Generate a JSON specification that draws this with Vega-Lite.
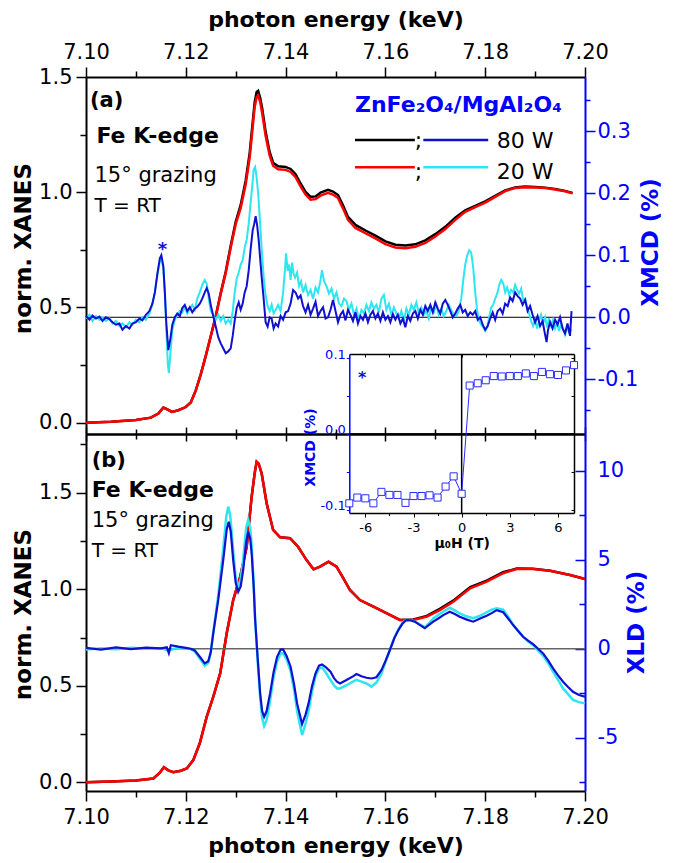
{
"$schema":"https://vega.github.io/schema/vega-lite/v6.json",
"width":499,"height":714,
"autosize":{"type":"none"},
"padding":{"left":86,"top":77,"right":96,"bottom":72},
"background":"white",
"data":{"values":[{"k":1}]},
"config":{
 "font":"DejaVu Sans",
 "view":{"stroke":null},
 "axis":{"grid":false,"domainColor":"#000","domainWidth":2,"tickColor":"#000","tickWidth":1.5,"labelColor":"#000","labelFont":"DejaVu Sans","labelFontSize":21,"titleFont":"DejaVu Sans","titleFontSize":23,"titleFontWeight":"bold","titleColor":"#000","labelFlush":false,"labelOverlap":false},
 "text":{"font":"DejaVu Sans"}
},
"datasets":{
 "xa80":[{"E":7.1,"v":0},{"E":7.105,"v":0.004},{"E":7.11,"v":0.012},{"E":7.113,"v":0.022},{"E":7.1145,"v":0.04},{"E":7.1155,"v":0.066},{"E":7.1163,"v":0.058},{"E":7.1172,"v":0.047},{"E":7.1185,"v":0.054},{"E":7.12,"v":0.068},{"E":7.121,"v":0.088},{"E":7.122,"v":0.14},{"E":7.123,"v":0.21},{"E":7.124,"v":0.29},{"E":7.125,"v":0.375},{"E":7.126,"v":0.462},{"E":7.127,"v":0.563},{"E":7.128,"v":0.655},{"E":7.129,"v":0.768},{"E":7.13,"v":0.872},{"E":7.131,"v":0.945},{"E":7.132,"v":1.05},{"E":7.1328,"v":1.17},{"E":7.1333,"v":1.28},{"E":7.1338,"v":1.39},{"E":7.1342,"v":1.435},{"E":7.1345,"v":1.44},{"E":7.1349,"v":1.41},{"E":7.1353,"v":1.365},{"E":7.136,"v":1.262},{"E":7.1368,"v":1.175},{"E":7.1375,"v":1.128},{"E":7.1385,"v":1.113},{"E":7.14,"v":1.11},{"E":7.141,"v":1.101},{"E":7.142,"v":1.078},{"E":7.143,"v":1.038},{"E":7.144,"v":1.002},{"E":7.145,"v":0.98},{"E":7.146,"v":0.982},{"E":7.147,"v":0.998},{"E":7.1485,"v":1.01},{"E":7.1495,"v":1.003},{"E":7.1505,"v":0.988},{"E":7.1515,"v":0.943},{"E":7.1525,"v":0.893},{"E":7.154,"v":0.858},{"E":7.156,"v":0.834},{"E":7.158,"v":0.812},{"E":7.16,"v":0.787},{"E":7.162,"v":0.772},{"E":7.164,"v":0.769},{"E":7.166,"v":0.774},{"E":7.168,"v":0.791},{"E":7.17,"v":0.818},{"E":7.172,"v":0.85},{"E":7.174,"v":0.889},{"E":7.176,"v":0.922},{"E":7.178,"v":0.941},{"E":7.18,"v":0.96},{"E":7.182,"v":0.984},{"E":7.184,"v":1.008},{"E":7.186,"v":1.021},{"E":7.188,"v":1.025},{"E":7.19,"v":1.023},{"E":7.192,"v":1.02},{"E":7.194,"v":1.014},{"E":7.196,"v":1.006},{"E":7.1975,"v":0.997}],
 "xa20":[{"E":7.1,"v":0},{"E":7.105,"v":0.004},{"E":7.11,"v":0.012},{"E":7.113,"v":0.022},{"E":7.1145,"v":0.04},{"E":7.1155,"v":0.066},{"E":7.1163,"v":0.058},{"E":7.1172,"v":0.047},{"E":7.1185,"v":0.054},{"E":7.12,"v":0.068},{"E":7.121,"v":0.088},{"E":7.122,"v":0.14},{"E":7.123,"v":0.21},{"E":7.124,"v":0.29},{"E":7.125,"v":0.375},{"E":7.126,"v":0.46},{"E":7.127,"v":0.56},{"E":7.128,"v":0.65},{"E":7.129,"v":0.76},{"E":7.13,"v":0.862},{"E":7.131,"v":0.932},{"E":7.132,"v":1.035},{"E":7.1328,"v":1.15},{"E":7.1333,"v":1.26},{"E":7.1338,"v":1.37},{"E":7.1342,"v":1.413},{"E":7.1345,"v":1.42},{"E":7.1349,"v":1.392},{"E":7.1353,"v":1.345},{"E":7.136,"v":1.245},{"E":7.1368,"v":1.16},{"E":7.1375,"v":1.115},{"E":7.1385,"v":1.1},{"E":7.14,"v":1.097},{"E":7.141,"v":1.088},{"E":7.142,"v":1.065},{"E":7.143,"v":1.025},{"E":7.144,"v":0.99},{"E":7.145,"v":0.968},{"E":7.146,"v":0.97},{"E":7.147,"v":0.985},{"E":7.1485,"v":0.997},{"E":7.1495,"v":0.99},{"E":7.1505,"v":0.975},{"E":7.1515,"v":0.93},{"E":7.1525,"v":0.88},{"E":7.154,"v":0.845},{"E":7.156,"v":0.822},{"E":7.158,"v":0.8},{"E":7.16,"v":0.775},{"E":7.162,"v":0.76},{"E":7.164,"v":0.757},{"E":7.166,"v":0.763},{"E":7.168,"v":0.78},{"E":7.17,"v":0.808},{"E":7.172,"v":0.84},{"E":7.174,"v":0.88},{"E":7.176,"v":0.915},{"E":7.178,"v":0.935},{"E":7.18,"v":0.955},{"E":7.182,"v":0.98},{"E":7.184,"v":1.005},{"E":7.186,"v":1.018},{"E":7.188,"v":1.022},{"E":7.19,"v":1.021},{"E":7.192,"v":1.018},{"E":7.194,"v":1.012},{"E":7.196,"v":1.004},{"E":7.1975,"v":0.995}],
 "xb80":[{"E":7.1,"v":0},{"E":7.105,"v":0.004},{"E":7.11,"v":0.01},{"E":7.1135,"v":0.02},{"E":7.1148,"v":0.05},{"E":7.1156,"v":0.078},{"E":7.1165,"v":0.062},{"E":7.1175,"v":0.052},{"E":7.119,"v":0.06},{"E":7.1202,"v":0.072},{"E":7.1215,"v":0.115},{"E":7.1228,"v":0.202},{"E":7.1242,"v":0.34},{"E":7.1255,"v":0.443},{"E":7.1269,"v":0.565},{"E":7.1282,"v":0.772},{"E":7.1295,"v":0.944},{"E":7.1309,"v":1.065},{"E":7.1322,"v":1.22},{"E":7.1332,"v":1.479},{"E":7.1338,"v":1.6},{"E":7.1342,"v":1.66},{"E":7.1346,"v":1.65},{"E":7.1352,"v":1.6},{"E":7.1362,"v":1.445},{"E":7.1375,"v":1.307},{"E":7.1389,"v":1.269},{"E":7.1409,"v":1.264},{"E":7.1425,"v":1.22},{"E":7.1442,"v":1.151},{"E":7.1456,"v":1.103},{"E":7.1469,"v":1.117},{"E":7.1486,"v":1.143},{"E":7.1502,"v":1.117},{"E":7.1515,"v":1.06},{"E":7.1529,"v":0.996},{"E":7.1549,"v":0.944},{"E":7.1576,"v":0.91},{"E":7.1603,"v":0.875},{"E":7.1629,"v":0.841},{"E":7.1656,"v":0.843},{"E":7.1683,"v":0.862},{"E":7.1709,"v":0.898},{"E":7.1736,"v":0.941},{"E":7.177,"v":1.011},{"E":7.1803,"v":1.045},{"E":7.1836,"v":1.088},{"E":7.1863,"v":1.107},{"E":7.1896,"v":1.106},{"E":7.193,"v":1.096},{"E":7.197,"v":1.074},{"E":7.2,"v":1.053}],
 "xb20":[{"E":7.1,"v":0},{"E":7.105,"v":0.004},{"E":7.11,"v":0.01},{"E":7.1135,"v":0.02},{"E":7.1148,"v":0.05},{"E":7.1156,"v":0.078},{"E":7.1165,"v":0.062},{"E":7.1175,"v":0.052},{"E":7.119,"v":0.06},{"E":7.1202,"v":0.072},{"E":7.1215,"v":0.115},{"E":7.1228,"v":0.202},{"E":7.1242,"v":0.34},{"E":7.1255,"v":0.443},{"E":7.1269,"v":0.565},{"E":7.1282,"v":0.772},{"E":7.1295,"v":0.944},{"E":7.1309,"v":1.065},{"E":7.1322,"v":1.22},{"E":7.1332,"v":1.479},{"E":7.1338,"v":1.6},{"E":7.1342,"v":1.66},{"E":7.1346,"v":1.65},{"E":7.1352,"v":1.6},{"E":7.1362,"v":1.445},{"E":7.1375,"v":1.307},{"E":7.1389,"v":1.269},{"E":7.1409,"v":1.264},{"E":7.1425,"v":1.22},{"E":7.1442,"v":1.151},{"E":7.1456,"v":1.103},{"E":7.1469,"v":1.117},{"E":7.1486,"v":1.143},{"E":7.1502,"v":1.117},{"E":7.1515,"v":1.06},{"E":7.1529,"v":0.996},{"E":7.1549,"v":0.944},{"E":7.1576,"v":0.91},{"E":7.1603,"v":0.875},{"E":7.1629,"v":0.841},{"E":7.1656,"v":0.841},{"E":7.1683,"v":0.858},{"E":7.1709,"v":0.892},{"E":7.1736,"v":0.935},{"E":7.177,"v":1.005},{"E":7.1803,"v":1.039},{"E":7.1836,"v":1.083},{"E":7.1863,"v":1.105},{"E":7.1896,"v":1.105},{"E":7.193,"v":1.096},{"E":7.197,"v":1.074},{"E":7.2,"v":1.053}],
 "m80":[{"E":7.1,"v":0.002},{"E":7.1007,"v":-0.004},{"E":7.1013,"v":0.003},{"E":7.102,"v":-0.002},{"E":7.1027,"v":0.001},{"E":7.1033,"v":-0.006},{"E":7.104,"v":0},{"E":7.1047,"v":-0.003},{"E":7.1053,"v":-0.008},{"E":7.106,"v":-0.012},{"E":7.1067,"v":-0.01},{"E":7.1073,"v":-0.02},{"E":7.108,"v":-0.014},{"E":7.1087,"v":-0.018},{"E":7.1093,"v":-0.01},{"E":7.11,"v":-0.008},{"E":7.1107,"v":-0.002},{"E":7.1113,"v":-0.005},{"E":7.112,"v":0.004},{"E":7.1127,"v":0.01},{"E":7.1133,"v":0.022},{"E":7.1138,"v":0.04},{"E":7.1143,"v":0.07},{"E":7.1148,"v":0.095},{"E":7.1151,"v":0.1},{"E":7.1155,"v":0.082},{"E":7.1158,"v":0.04},{"E":7.1161,"v":-0.01},{"E":7.1165,"v":-0.053},{"E":7.1169,"v":-0.035},{"E":7.1173,"v":-0.012},{"E":7.1178,"v":0},{"E":7.1183,"v":0.006},{"E":7.1188,"v":0.002},{"E":7.1193,"v":0.015},{"E":7.1198,"v":0.02},{"E":7.1203,"v":0.01},{"E":7.1208,"v":0.016},{"E":7.1213,"v":0.008},{"E":7.1218,"v":0.014},{"E":7.1223,"v":0.017},{"E":7.1228,"v":0.022},{"E":7.1233,"v":0.03},{"E":7.1238,"v":0.04},{"E":7.1242,"v":0.047},{"E":7.1246,"v":0.038},{"E":7.125,"v":0.02},{"E":7.1255,"v":0.002},{"E":7.126,"v":-0.015},{"E":7.1265,"v":-0.032},{"E":7.127,"v":-0.042},{"E":7.1275,"v":-0.05},{"E":7.128,"v":-0.058},{"E":7.1285,"v":-0.055},{"E":7.129,"v":-0.05},{"E":7.1294,"v":-0.03},{"E":7.1298,"v":-0.005},{"E":7.1302,"v":0.015},{"E":7.1306,"v":0.024},{"E":7.131,"v":0.012},{"E":7.1314,"v":0.022},{"E":7.1318,"v":0.04},{"E":7.1322,"v":0.05},{"E":7.1326,"v":0.075},{"E":7.133,"v":0.11},{"E":7.1334,"v":0.14},{"E":7.1337,"v":0.15},{"E":7.134,"v":0.163},{"E":7.1343,"v":0.148},{"E":7.1346,"v":0.125},{"E":7.1349,"v":0.095},{"E":7.1352,"v":0.065},{"E":7.1356,"v":0.03},{"E":7.136,"v":-0.008},{"E":7.1364,"v":-0.015},{"E":7.1368,"v":0},{"E":7.1372,"v":-0.002},{"E":7.1376,"v":-0.018},{"E":7.138,"v":-0.01},{"E":7.1385,"v":-0.015},{"E":7.139,"v":0.002},{"E":7.1395,"v":-0.004},{"E":7.14,"v":0.008},{"E":7.1405,"v":0.01},{"E":7.141,"v":0.022},{"E":7.1415,"v":0.044},{"E":7.142,"v":0.04},{"E":7.1425,"v":0.03},{"E":7.143,"v":0.035},{"E":7.1435,"v":0.018},{"E":7.144,"v":0.008},{"E":7.1445,"v":0.02},{"E":7.145,"v":0.004},{"E":7.1455,"v":0.014},{"E":7.146,"v":0.025},{"E":7.1465,"v":0.002},{"E":7.147,"v":0.01},{"E":7.1475,"v":0.016},{"E":7.148,"v":-0.002},{"E":7.1485,"v":0},{"E":7.149,"v":0.012},{"E":7.1495,"v":0.028},{"E":7.15,"v":0.01},{"E":7.1505,"v":-0.008},{"E":7.151,"v":0.004},{"E":7.1515,"v":0.01},{"E":7.152,"v":-0.005},{"E":7.1525,"v":0.012},{"E":7.153,"v":0.004},{"E":7.1535,"v":-0.006},{"E":7.154,"v":0.008},{"E":7.1545,"v":-0.01},{"E":7.155,"v":0.002},{"E":7.1555,"v":-0.004},{"E":7.156,"v":0.006},{"E":7.1565,"v":-0.008},{"E":7.157,"v":0.004},{"E":7.1575,"v":0.01},{"E":7.158,"v":-0.002},{"E":7.1585,"v":0.006},{"E":7.159,"v":-0.006},{"E":7.1595,"v":0.008},{"E":7.16,"v":-0.004},{"E":7.1605,"v":0.002},{"E":7.161,"v":-0.008},{"E":7.1615,"v":0.005},{"E":7.162,"v":-0.004},{"E":7.1625,"v":0.004},{"E":7.163,"v":-0.01},{"E":7.1635,"v":-0.002},{"E":7.164,"v":-0.016},{"E":7.1645,"v":0.002},{"E":7.165,"v":-0.006},{"E":7.1655,"v":0.006},{"E":7.166,"v":0.01},{"E":7.1665,"v":-0.002},{"E":7.167,"v":0.012},{"E":7.1675,"v":0.004},{"E":7.168,"v":0.018},{"E":7.1685,"v":0.01},{"E":7.169,"v":0.02},{"E":7.1695,"v":0.008},{"E":7.17,"v":0.024},{"E":7.1705,"v":0.014},{"E":7.171,"v":0.006},{"E":7.1715,"v":0.022},{"E":7.172,"v":0.028},{"E":7.1725,"v":0.02},{"E":7.173,"v":0.01},{"E":7.1735,"v":0},{"E":7.174,"v":0.006},{"E":7.1745,"v":0.014},{"E":7.175,"v":0.02},{"E":7.1755,"v":0.008},{"E":7.176,"v":0.012},{"E":7.1765,"v":0.002},{"E":7.177,"v":0.008},{"E":7.1775,"v":0.004},{"E":7.178,"v":0.01},{"E":7.1785,"v":-0.004},{"E":7.179,"v":0},{"E":7.1795,"v":-0.012},{"E":7.18,"v":-0.02},{"E":7.1805,"v":-0.014},{"E":7.181,"v":-0.002},{"E":7.1815,"v":0.008},{"E":7.182,"v":-0.004},{"E":7.1825,"v":0.01},{"E":7.183,"v":0.014},{"E":7.1835,"v":0.006},{"E":7.184,"v":0.022},{"E":7.1845,"v":0.018},{"E":7.185,"v":0.032},{"E":7.1855,"v":0.026},{"E":7.186,"v":0.04},{"E":7.1865,"v":0.034},{"E":7.187,"v":0.03},{"E":7.1875,"v":0.02},{"E":7.188,"v":0.028},{"E":7.1885,"v":0.01},{"E":7.189,"v":0.018},{"E":7.1895,"v":0.004},{"E":7.19,"v":-0.008},{"E":7.1905,"v":0.002},{"E":7.191,"v":-0.014},{"E":7.1915,"v":-0.006},{"E":7.192,"v":-0.028},{"E":7.1923,"v":-0.04},{"E":7.1926,"v":-0.02},{"E":7.193,"v":-0.008},{"E":7.1935,"v":-0.018},{"E":7.194,"v":-0.004},{"E":7.1945,"v":-0.012},{"E":7.195,"v":0},{"E":7.1955,"v":-0.018},{"E":7.196,"v":-0.026},{"E":7.1965,"v":-0.01},{"E":7.197,"v":-0.03},{"E":7.1973,"v":0.01}],
 "m20":[{"E":7.1,"v":-0.002},{"E":7.1007,"v":0.004},{"E":7.1013,"v":-0.006},{"E":7.102,"v":0.002},{"E":7.1027,"v":-0.004},{"E":7.1033,"v":0},{"E":7.104,"v":-0.006},{"E":7.1047,"v":-0.002},{"E":7.1053,"v":-0.01},{"E":7.106,"v":-0.006},{"E":7.1067,"v":-0.014},{"E":7.1073,"v":-0.01},{"E":7.108,"v":-0.016},{"E":7.1087,"v":-0.008},{"E":7.1093,"v":-0.012},{"E":7.11,"v":-0.004},{"E":7.1107,"v":-0.008},{"E":7.1113,"v":0},{"E":7.112,"v":-0.004},{"E":7.1127,"v":0.006},{"E":7.1133,"v":0.02},{"E":7.1138,"v":0.04},{"E":7.1143,"v":0.068},{"E":7.1148,"v":0.09},{"E":7.1151,"v":0.093},{"E":7.1155,"v":0.08},{"E":7.1158,"v":0.04},{"E":7.1161,"v":-0.02},{"E":7.1164,"v":-0.075},{"E":7.1166,"v":-0.09},{"E":7.1169,"v":-0.06},{"E":7.1173,"v":-0.02},{"E":7.1178,"v":-0.004},{"E":7.1183,"v":0.004},{"E":7.1188,"v":0.01},{"E":7.1193,"v":0.008},{"E":7.1198,"v":0.016},{"E":7.1203,"v":0.006},{"E":7.1208,"v":0.014},{"E":7.1213,"v":0.02},{"E":7.1218,"v":0.012},{"E":7.1223,"v":0.03},{"E":7.1228,"v":0.04},{"E":7.1233,"v":0.052},{"E":7.1238,"v":0.06},{"E":7.1242,"v":0.054},{"E":7.1246,"v":0.03},{"E":7.125,"v":0.01},{"E":7.1255,"v":0.004},{"E":7.126,"v":-0.004},{"E":7.1265,"v":0.004},{"E":7.127,"v":-0.006},{"E":7.1275,"v":0.002},{"E":7.128,"v":-0.01},{"E":7.1285,"v":-0.004},{"E":7.129,"v":-0.01},{"E":7.1294,"v":0.01},{"E":7.1298,"v":0.04},{"E":7.1302,"v":0.062},{"E":7.1306,"v":0.072},{"E":7.131,"v":0.085},{"E":7.1314,"v":0.092},{"E":7.1318,"v":0.112},{"E":7.1322,"v":0.125},{"E":7.1326,"v":0.15},{"E":7.133,"v":0.185},{"E":7.1333,"v":0.21},{"E":7.1336,"v":0.238},{"E":7.1339,"v":0.242},{"E":7.1342,"v":0.225},{"E":7.1345,"v":0.2},{"E":7.1349,"v":0.15},{"E":7.1352,"v":0.112},{"E":7.1356,"v":0.065},{"E":7.136,"v":0.035},{"E":7.1364,"v":0.018},{"E":7.1368,"v":0.01},{"E":7.1372,"v":0.02},{"E":7.1376,"v":0.006},{"E":7.138,"v":0.012},{"E":7.1385,"v":0.02},{"E":7.139,"v":0.01},{"E":7.1395,"v":0.04},{"E":7.1399,"v":0.08},{"E":7.1401,"v":0.103},{"E":7.1404,"v":0.075},{"E":7.1407,"v":0.085},{"E":7.141,"v":0.06},{"E":7.1413,"v":0.088},{"E":7.1416,"v":0.07},{"E":7.1419,"v":0.064},{"E":7.1423,"v":0.072},{"E":7.1427,"v":0.05},{"E":7.1431,"v":0.058},{"E":7.1435,"v":0.04},{"E":7.144,"v":0.052},{"E":7.1445,"v":0.036},{"E":7.145,"v":0.044},{"E":7.1455,"v":0.03},{"E":7.146,"v":0.048},{"E":7.1465,"v":0.04},{"E":7.147,"v":0.06},{"E":7.1473,"v":0.076},{"E":7.1477,"v":0.058},{"E":7.1482,"v":0.05},{"E":7.1487,"v":0.038},{"E":7.1492,"v":0.046},{"E":7.1497,"v":0.03},{"E":7.1502,"v":0.04},{"E":7.1507,"v":0.022},{"E":7.1512,"v":0.018},{"E":7.1517,"v":0.03},{"E":7.1522,"v":0.026},{"E":7.1527,"v":0.012},{"E":7.1532,"v":0.022},{"E":7.1537,"v":0.004},{"E":7.1542,"v":0.014},{"E":7.1547,"v":-0.004},{"E":7.1552,"v":0.012},{"E":7.1557,"v":0.006},{"E":7.1562,"v":0.02},{"E":7.1567,"v":0.01},{"E":7.1572,"v":0.024},{"E":7.1577,"v":0.014},{"E":7.1582,"v":0.02},{"E":7.1587,"v":0.008},{"E":7.1592,"v":0.03},{"E":7.1597,"v":0.036},{"E":7.1602,"v":0.012},{"E":7.1607,"v":0.022},{"E":7.1612,"v":0.004},{"E":7.1617,"v":0.016},{"E":7.1622,"v":0.006},{"E":7.1627,"v":-0.002},{"E":7.1632,"v":0.01},{"E":7.1637,"v":-0.006},{"E":7.1642,"v":0.014},{"E":7.1647,"v":0.004},{"E":7.1652,"v":0.02},{"E":7.1657,"v":0.012},{"E":7.1662,"v":0.024},{"E":7.1667,"v":0.006},{"E":7.1672,"v":0.016},{"E":7.1677,"v":0.004},{"E":7.1682,"v":0.01},{"E":7.1687,"v":-0.002},{"E":7.1692,"v":0.016},{"E":7.1697,"v":0.008},{"E":7.1702,"v":0.02},{"E":7.1707,"v":0.004},{"E":7.1712,"v":0.014},{"E":7.1717,"v":0.002},{"E":7.1722,"v":0.01},{"E":7.1727,"v":0.02},{"E":7.1732,"v":0.012},{"E":7.1737,"v":0.004},{"E":7.1742,"v":0.002},{"E":7.1747,"v":0.01},{"E":7.1752,"v":0.03},{"E":7.1756,"v":0.06},{"E":7.176,"v":0.085},{"E":7.1764,"v":0.1},{"E":7.1768,"v":0.108},{"E":7.1772,"v":0.104},{"E":7.1776,"v":0.08},{"E":7.178,"v":0.04},{"E":7.1784,"v":0.01},{"E":7.1788,"v":-0.006},{"E":7.1792,"v":-0.012},{"E":7.1796,"v":-0.016},{"E":7.18,"v":-0.022},{"E":7.1804,"v":-0.016},{"E":7.1808,"v":0},{"E":7.1812,"v":0.016},{"E":7.1816,"v":0.02},{"E":7.182,"v":0.03},{"E":7.1824,"v":0.038},{"E":7.1828,"v":0.052},{"E":7.1832,"v":0.06},{"E":7.1836,"v":0.055},{"E":7.184,"v":0.04},{"E":7.1844,"v":0.048},{"E":7.1848,"v":0.036},{"E":7.1852,"v":0.044},{"E":7.1856,"v":0.04},{"E":7.186,"v":0.052},{"E":7.1864,"v":0.044},{"E":7.1868,"v":0.038},{"E":7.1872,"v":0.046},{"E":7.1876,"v":0.028},{"E":7.188,"v":0.03},{"E":7.1884,"v":0.016},{"E":7.1888,"v":0.006},{"E":7.1892,"v":-0.006},{"E":7.1896,"v":-0.014},{"E":7.19,"v":-0.004},{"E":7.1904,"v":-0.018},{"E":7.1908,"v":-0.006},{"E":7.1912,"v":0.004},{"E":7.1916,"v":-0.01},{"E":7.192,"v":0},{"E":7.1924,"v":-0.016},{"E":7.1928,"v":-0.002},{"E":7.1932,"v":-0.014},{"E":7.1936,"v":-0.004},{"E":7.194,"v":-0.018},{"E":7.1944,"v":-0.008},{"E":7.1948,"v":-0.022},{"E":7.1952,"v":-0.01},{"E":7.1956,"v":-0.018},{"E":7.196,"v":-0.028},{"E":7.1964,"v":-0.016},{"E":7.1968,"v":-0.024},{"E":7.1973,"v":-0.02}],
 "l80":[{"E":7.1,"v":0.05},{"E":7.103,"v":-0.05},{"E":7.106,"v":0.08},{"E":7.109,"v":-0.02},{"E":7.112,"v":0.06},{"E":7.115,"v":0.02},{"E":7.1162,"v":0.08},{"E":7.1166,"v":-0.25},{"E":7.117,"v":0.2},{"E":7.1185,"v":0.12},{"E":7.12,"v":0.05},{"E":7.121,"v":0},{"E":7.1218,"v":-0.1},{"E":7.1228,"v":-0.45},{"E":7.1238,"v":-0.82},{"E":7.1245,"v":-0.7},{"E":7.125,"v":-0.2},{"E":7.1255,"v":0.86},{"E":7.1265,"v":2.74},{"E":7.1275,"v":4.98},{"E":7.1282,"v":6.7},{"E":7.1286,"v":7.13},{"E":7.129,"v":6.6},{"E":7.1295,"v":4.98},{"E":7.13,"v":3.7},{"E":7.1305,"v":3.2},{"E":7.131,"v":3.5},{"E":7.1315,"v":4.42},{"E":7.1321,"v":6},{"E":7.1325,"v":6.57},{"E":7.1329,"v":6.2},{"E":7.1332,"v":5.36},{"E":7.1336,"v":3.5},{"E":7.1339,"v":1.61},{"E":7.1344,"v":-0.5},{"E":7.1349,"v":-2.5},{"E":7.1353,"v":-3.5},{"E":7.1357,"v":-3.82},{"E":7.1362,"v":-3.5},{"E":7.1369,"v":-2.5},{"E":7.1376,"v":-1.3},{"E":7.1383,"v":-0.45},{"E":7.139,"v":-0.05},{"E":7.1395,"v":-0.04},{"E":7.1402,"v":-0.4},{"E":7.141,"v":-1.01},{"E":7.1417,"v":-2},{"E":7.1423,"v":-3.07},{"E":7.1433,"v":-4.23},{"E":7.144,"v":-3.7},{"E":7.1446,"v":-3.07},{"E":7.1453,"v":-2.1},{"E":7.146,"v":-1.38},{"E":7.1467,"v":-0.95},{"E":7.1473,"v":-0.88},{"E":7.1481,"v":-1.05},{"E":7.149,"v":-1.29},{"E":7.1497,"v":-1.65},{"E":7.1503,"v":-1.85},{"E":7.1509,"v":-1.95},{"E":7.1522,"v":-1.76},{"E":7.1535,"v":-1.55},{"E":7.1542,"v":-1.42},{"E":7.1552,"v":-1.55},{"E":7.1562,"v":-1.63},{"E":7.1572,"v":-1.67},{"E":7.1582,"v":-1.6},{"E":7.1592,"v":-1.2},{"E":7.16,"v":-0.7},{"E":7.1609,"v":-0.07},{"E":7.1618,"v":0.6},{"E":7.1626,"v":1.05},{"E":7.1634,"v":1.4},{"E":7.1642,"v":1.61},{"E":7.165,"v":1.6},{"E":7.1659,"v":1.52},{"E":7.1668,"v":1.35},{"E":7.1679,"v":1.15},{"E":7.1688,"v":1.35},{"E":7.1696,"v":1.52},{"E":7.1706,"v":1.7},{"E":7.1716,"v":1.89},{"E":7.1729,"v":2.08},{"E":7.1739,"v":1.95},{"E":7.1749,"v":1.8},{"E":7.1762,"v":1.65},{"E":7.1776,"v":1.52},{"E":7.179,"v":1.7},{"E":7.1803,"v":1.85},{"E":7.1813,"v":2},{"E":7.1823,"v":2.17},{"E":7.1836,"v":2.05},{"E":7.1846,"v":1.7},{"E":7.1856,"v":1.33},{"E":7.1866,"v":1},{"E":7.1876,"v":0.67},{"E":7.1886,"v":0.45},{"E":7.1896,"v":0.26},{"E":7.1906,"v":0},{"E":7.1916,"v":-0.26},{"E":7.1926,"v":-0.65},{"E":7.1936,"v":-1.1},{"E":7.1946,"v":-1.5},{"E":7.1956,"v":-1.85},{"E":7.1966,"v":-2.15},{"E":7.1976,"v":-2.42},{"E":7.1988,"v":-2.6},{"E":7.2,"v":-2.7}],
 "l20":[{"E":7.1,"v":-0.05},{"E":7.103,"v":0.02},{"E":7.106,"v":-0.03},{"E":7.109,"v":0.05},{"E":7.112,"v":0},{"E":7.115,"v":0.03},{"E":7.1166,"v":-0.1},{"E":7.1185,"v":0.06},{"E":7.12,"v":0.02},{"E":7.121,"v":-0.02},{"E":7.1218,"v":-0.15},{"E":7.1228,"v":-0.55},{"E":7.1238,"v":-0.95},{"E":7.1245,"v":-0.8},{"E":7.125,"v":-0.2},{"E":7.1255,"v":0.9},{"E":7.1265,"v":3},{"E":7.1275,"v":5.6},{"E":7.1281,"v":7.4},{"E":7.1285,"v":7.98},{"E":7.1289,"v":7.5},{"E":7.1295,"v":5.5},{"E":7.13,"v":4},{"E":7.1305,"v":3.48},{"E":7.131,"v":3.9},{"E":7.1315,"v":5},{"E":7.1321,"v":6.8},{"E":7.1325,"v":7.23},{"E":7.1329,"v":6.8},{"E":7.1332,"v":5.8},{"E":7.1336,"v":3.7},{"E":7.1339,"v":1.61},{"E":7.1344,"v":-0.7},{"E":7.1349,"v":-2.7},{"E":7.1353,"v":-3.9},{"E":7.1357,"v":-4.34},{"E":7.1362,"v":-4},{"E":7.1369,"v":-2.9},{"E":7.1376,"v":-1.6},{"E":7.1383,"v":-0.7},{"E":7.139,"v":-0.28},{"E":7.1395,"v":-0.26},{"E":7.1402,"v":-0.6},{"E":7.141,"v":-1.25},{"E":7.1417,"v":-2.3},{"E":7.1423,"v":-3.5},{"E":7.1433,"v":-4.85},{"E":7.144,"v":-4.2},{"E":7.1446,"v":-3.5},{"E":7.1453,"v":-2.4},{"E":7.146,"v":-1.55},{"E":7.1467,"v":-1.12},{"E":7.1473,"v":-1.05},{"E":7.1481,"v":-1.35},{"E":7.149,"v":-1.76},{"E":7.1497,"v":-2.05},{"E":7.1503,"v":-2.23},{"E":7.1509,"v":-2.23},{"E":7.1522,"v":-2.05},{"E":7.1535,"v":-1.85},{"E":7.1542,"v":-1.75},{"E":7.1552,"v":-1.85},{"E":7.1562,"v":-1.95},{"E":7.1572,"v":-2.13},{"E":7.1582,"v":-1.9},{"E":7.1592,"v":-1.4},{"E":7.16,"v":-0.75},{"E":7.1609,"v":-0.07},{"E":7.1618,"v":0.62},{"E":7.1626,"v":1.08},{"E":7.1634,"v":1.45},{"E":7.1642,"v":1.62},{"E":7.165,"v":1.6},{"E":7.1659,"v":1.52},{"E":7.1668,"v":1.38},{"E":7.1679,"v":1.2},{"E":7.1688,"v":1.45},{"E":7.1696,"v":1.7},{"E":7.1706,"v":1.9},{"E":7.1716,"v":2.08},{"E":7.1729,"v":2.3},{"E":7.1739,"v":2.15},{"E":7.1749,"v":1.98},{"E":7.1762,"v":1.82},{"E":7.1776,"v":1.71},{"E":7.179,"v":1.85},{"E":7.1803,"v":2.05},{"E":7.1813,"v":2.2},{"E":7.1823,"v":2.27},{"E":7.1836,"v":2.2},{"E":7.1846,"v":1.8},{"E":7.1856,"v":1.35},{"E":7.1866,"v":1},{"E":7.1876,"v":0.67},{"E":7.1886,"v":0.4},{"E":7.1896,"v":0.2},{"E":7.1906,"v":-0.1},{"E":7.1916,"v":-0.4},{"E":7.1926,"v":-0.8},{"E":7.1936,"v":-1.29},{"E":7.1946,"v":-1.75},{"E":7.1956,"v":-2.23},{"E":7.1966,"v":-2.55},{"E":7.1976,"v":-2.88},{"E":7.1988,"v":-3},{"E":7.2,"v":-3.07}],
 "ins":[{"H":-7,"m":-0.0916},{"H":-6.5,"m":-0.084},{"H":-6,"m":-0.085},{"H":-5.5,"m":-0.0916},{"H":-5,"m":-0.0765},{"H":-4.5,"m":-0.0805},{"H":-4,"m":-0.0805},{"H":-3.5,"m":-0.091},{"H":-3,"m":-0.082},{"H":-2.5,"m":-0.082},{"H":-2,"m":-0.081},{"H":-1.5,"m":-0.084},{"H":-1,"m":-0.0695},{"H":-0.5,"m":-0.056},{"H":0,"m":-0.079},{"H":0.5,"m":0.064},{"H":1,"m":0.067},{"H":1.5,"m":0.071},{"H":2,"m":0.0765},{"H":2.5,"m":0.076},{"H":3,"m":0.0765},{"H":3.5,"m":0.0765},{"H":4,"m":0.08},{"H":4.5,"m":0.0765},{"H":5,"m":0.082},{"H":5.5,"m":0.079},{"H":6,"m":0.078},{"H":6.5,"m":0.084},{"H":7,"m":0.091}]
},
"resolve":{"scale":{"x":"independent","y":"independent"},"axis":{"x":"independent","y":"independent"}},
"layer":[
 {"layer":[
  {"data":{"name":"xa80"},"mark":{"type":"line","color":"#000000","strokeWidth":2.5},
   "encoding":{
    "x":{"field":"E","type":"quantitative","scale":{"domain":[7.1,7.2],"range":[0,499],"nice":false,"zero":false},
      "axis":{"orient":"top","title":"photon energy (keV)","titleFontSize":22,"values":[7.1,7.11,7.12,7.13,7.14,7.15,7.16,7.17,7.18,7.19,7.2],"labelExpr":"round(datum.value*100)%2===0 ? format(datum.value,'.2f') : ''","tickSize":{"condition":{"test":"round(datum.value*100)%2===0","value":10},"value":6},"labelPadding":5,"titlePadding":10}},
    "y":{"field":"v","type":"quantitative","scale":{"domain":[-0.049,1.5],"range":[357,0],"nice":false,"zero":false},
      "axis":{"orient":"left","title":"norm. XANES","titleY":171,"values":[0,0.25,0.5,0.75,1,1.25,1.5],"labelExpr":"(datum.value*2)%1===0 ? format(datum.value,'.1f') : ''","tickSize":{"condition":{"test":"(datum.value*2)%1===0","value":10},"value":6},"labelPadding":4,"titlePadding":3}}}},
  {"data":{"name":"xa20"},"mark":{"type":"line","color":"#ff0000","strokeWidth":2.5},
   "encoding":{"x":{"field":"E","type":"quantitative"},"y":{"field":"v","type":"quantitative"}}},
  {"mark":{"type":"rule","color":"#000000","strokeWidth":2.5},"encoding":{"x":{"datum":7.1539},"x2":{"datum":7.1659},"y":{"datum":1.2266}}},
  {"mark":{"type":"rule","color":"#1010d0","strokeWidth":2.5},"encoding":{"x":{"datum":7.1676},"x2":{"datum":7.1806},"y":{"datum":1.2266}}},
  {"mark":{"type":"rule","color":"#ff0000","strokeWidth":2.5},"encoding":{"x":{"datum":7.1539},"x2":{"datum":7.1659},"y":{"datum":1.1082}}},
  {"mark":{"type":"rule","color":"#2ee6f0","strokeWidth":2.5},"encoding":{"x":{"datum":7.1676},"x2":{"datum":7.1806},"y":{"datum":1.1082}}},
  {"mark":{"type":"text","text":"(a)","fontSize":21,"fontWeight":"bold","align":"left","baseline":"alphabetic","color":"#000"},"encoding":{"x":{"datum":7.1008},"y":{"datum":1.3711}}},
  {"mark":{"type":"text","text":"Fe K-edge","fontSize":22,"fontWeight":"bold","align":"left","baseline":"alphabetic","color":"#000"},"encoding":{"x":{"datum":7.1021},"y":{"datum":1.2123}}},
  {"mark":{"type":"text","text":"15° grazing","fontSize":21,"align":"left","baseline":"alphabetic","color":"#000"},"encoding":{"x":{"datum":7.1017},"y":{"datum":1.0457}}},
  {"mark":{"type":"text","text":"T = RT","fontSize":20,"align":"left","baseline":"alphabetic","color":"#000"},"encoding":{"x":{"datum":7.1017},"y":{"datum":0.9155}}},
  {"mark":{"type":"text","text":"ZnFe₂O₄/MgAl₂O₄","fontSize":22,"fontWeight":"bold","align":"left","baseline":"alphabetic","color":"#0000ff"},"encoding":{"x":{"datum":7.1539},"y":{"datum":1.3494}}},
  {"mark":{"type":"text","text":";","fontSize":22,"align":"left","baseline":"alphabetic","color":"#000"},"encoding":{"x":{"datum":7.1659},"y":{"datum":1.1919}}},
  {"mark":{"type":"text","text":";","fontSize":22,"align":"left","baseline":"alphabetic","color":"#000"},"encoding":{"x":{"datum":7.1659},"y":{"datum":1.0561}}},
  {"mark":{"type":"text","text":"80 W","fontSize":22,"align":"left","baseline":"alphabetic","color":"#000"},"encoding":{"x":{"datum":7.1823},"y":{"datum":1.1906}}},
  {"mark":{"type":"text","text":"20 W","fontSize":22,"align":"left","baseline":"alphabetic","color":"#000"},"encoding":{"x":{"datum":7.1823},"y":{"datum":1.0561}}},
  {"mark":{"type":"text","text":"*","fontSize":18,"fontWeight":"bold","align":"center","baseline":"alphabetic","color":"#1010d0"},"encoding":{"x":{"datum":7.1153},"y":{"datum":0.729}}}
 ]},
 {"layer":[
  {"mark":{"type":"rule","color":"#000000","strokeWidth":1},
   "encoding":{
    "x":{"datum":7.1,"scale":{"domain":[7.1,7.2],"range":[0,499],"nice":false,"zero":false},
      "axis":{"orient":"bottom","offset":-357,"title":null,"labels":false,"values":[7.1,7.11,7.12,7.13,7.14,7.15,7.16,7.17,7.18,7.19,7.2],"tickSize":{"condition":{"test":"round(datum.value*100)%2===0","value":7},"value":5}}},
    "x2":{"datum":7.2},
    "y":{"datum":0,"scale":{"domain":[-0.188,0.387],"range":[357,0],"nice":false,"zero":false},
      "axis":{"orient":"right","title":"XMCD (%)","titleAngle":270,"titleBaseline":"top","titleY":165,"values":[-0.15,-0.1,-0.05,0,0.05,0.1,0.15,0.2,0.25,0.3,0.35],"labelExpr":"round(datum.value*100)%10===0 ? replace(format(datum.value,'.1f'),'\u2212','-') : ''","tickSize":{"condition":{"test":"round(datum.value*100)%10===0","value":10},"value":5},"labelPadding":2,"titlePadding":2,"domainColor":"#0000ff","tickColor":"#0000ff","labelColor":"#0000ff","titleColor":"#0000ff"}}}},
  {"data":{"name":"m20"},"mark":{"type":"line","color":"#2ee6f0","strokeWidth":2},
   "encoding":{"x":{"field":"E","type":"quantitative"},"y":{"field":"v","type":"quantitative"}}},
  {"data":{"name":"m80"},"mark":{"type":"line","color":"#1010d0","strokeWidth":2},
   "encoding":{"x":{"field":"E","type":"quantitative"},"y":{"field":"v","type":"quantitative"}}}
 ]},
 {"layer":[
  {"data":{"name":"xb80"},"mark":{"type":"line","color":"#000000","strokeWidth":2.5},
   "encoding":{
    "x":{"field":"E","type":"quantitative","scale":{"domain":[7.1,7.2],"range":[0,499],"nice":false,"zero":false},
      "axis":{"orient":"bottom","title":"photon energy (keV)","titleFontSize":22,"values":[7.1,7.11,7.12,7.13,7.14,7.15,7.16,7.17,7.18,7.19,7.2],"labelExpr":"round(datum.value*100)%2===0 ? format(datum.value,'.2f') : ''","tickSize":{"condition":{"test":"round(datum.value*100)%2===0","value":10},"value":6},"labelPadding":5,"titlePadding":8}},
    "y":{"field":"v","type":"quantitative","scale":{"domain":[-0.045,1.804],"range":[714,357],"nice":false,"zero":false},
      "axis":{"orient":"left","title":"norm. XANES","titleY":537,"values":[0,0.25,0.5,0.75,1,1.25,1.5,1.75],"labelExpr":"(datum.value*2)%1===0 ? format(datum.value,'.1f') : ''","tickSize":{"condition":{"test":"(datum.value*2)%1===0","value":10},"value":6},"labelPadding":4,"titlePadding":3}}}},
  {"data":{"name":"xb20"},"mark":{"type":"line","color":"#ff0000","strokeWidth":2.5},
   "encoding":{"x":{"field":"E","type":"quantitative"},"y":{"field":"v","type":"quantitative"}}},
  {"mark":{"type":"text","text":"(b)","fontSize":21,"fontWeight":"bold","align":"left","baseline":"alphabetic","color":"#000"},"encoding":{"x":{"datum":7.10114},"y":{"datum":1.6347}}},
  {"mark":{"type":"text","text":"Fe K-edge","fontSize":22,"fontWeight":"bold","align":"left","baseline":"alphabetic","color":"#000"},"encoding":{"x":{"datum":7.10114},"y":{"datum":1.4793}}},
  {"mark":{"type":"text","text":"15° grazing","fontSize":21,"align":"left","baseline":"alphabetic","color":"#000"},"encoding":{"x":{"datum":7.10114},"y":{"datum":1.3239}}},
  {"mark":{"type":"text","text":"T = RT","fontSize":20,"align":"left","baseline":"alphabetic","color":"#000"},"encoding":{"x":{"datum":7.10114},"y":{"datum":1.1654}}}
 ]},
 {"layer":[
  {"mark":{"type":"rule","color":"#666666","strokeWidth":1.5},
   "encoding":{
    "x":{"datum":7.1,"scale":{"domain":[7.1,7.2],"range":[0,499],"nice":false,"zero":false},
      "axis":{"orient":"top","offset":-357,"title":null,"labels":false,"values":[7.1,7.11,7.12,7.13,7.14,7.15,7.16,7.17,7.18,7.19,7.2],"tickSize":{"condition":{"test":"round(datum.value*100)%2===0","value":7},"value":5}}},
    "x2":{"datum":7.2},
    "y":{"datum":0,"scale":{"domain":[-7.99,12.06],"range":[714,357],"nice":false,"zero":false},
      "axis":{"orient":"right","title":"XLD (%)","titleAngle":270,"titleBaseline":"top","titleY":545,"values":[-7.5,-5,-2.5,0,2.5,5,7.5,10],"labelExpr":"datum.value%5===0 ? ''+datum.value : ''","tickSize":{"condition":{"test":"datum.value%5===0","value":-10},"value":-6},"labelPadding":22,"titlePadding":2,"domainColor":"#0000ff","tickColor":"#0000ff","labelColor":"#0000ff","titleColor":"#0000ff"}}}},
  {"data":{"name":"l20"},"mark":{"type":"line","color":"#2ee6f0","strokeWidth":2.5},
   "encoding":{"x":{"field":"E","type":"quantitative"},"y":{"field":"v","type":"quantitative"}}},
  {"data":{"name":"l80"},"mark":{"type":"line","color":"#1010d0","strokeWidth":2.2},
   "encoding":{"x":{"field":"E","type":"quantitative"},"y":{"field":"v","type":"quantitative"}}}
 ]},
 {"layer":[
  {"mark":{"type":"rule","color":"#000000","strokeWidth":1.5},
   "encoding":{
    "x":{"datum":0,"scale":{"domain":[-7,7],"range":[263.3,488],"nice":false,"zero":false},
      "axis":{"orient":"bottom","offset":-278,"title":"μ₀H (T)","titleFontSize":14,"values":[-6,-4.5,-3,-1.5,0,1.5,3,4.5,6],"labelExpr":"datum.value%3===0 ? ''+datum.value : ''","tickSize":{"condition":{"test":"datum.value%3===0","value":4},"value":2.5},"labelFontSize":13,"labelPadding":4,"titlePadding":2,"domainWidth":1.5,"tickWidth":1}},
    "y":{"datum":-0.1044,"scale":{"domain":[-0.1044,0.1057],"range":[436,277],"nice":false,"zero":false},
      "axis":{"orient":"left","offset":-263.3,"title":"XMCD (%)","titleFontSize":14,"titleColor":"#0000ff","titleY":370,"values":[-0.1,-0.05,0,0.05,0.1],"labelExpr":"round(datum.value*100)%10===0 ? replace(format(datum.value,'.1f'),'\u2212','-') : ''","tickSize":3,"labelFontSize":13,"labelPadding":1,"labelBaseline":"alphabetic","labelColor":"#0000ff","domainColor":"#0000ff","tickColor":"#0000ff","domainWidth":1.5,"tickWidth":1,"titlePadding":2}},
    "y2":{"datum":0.1057}}},
  {"mark":{"type":"rule","color":"#000000","strokeWidth":1.5},"encoding":{"x":{"datum":-7},"x2":{"datum":7},"y":{"datum":0}}},
  {"data":{"name":"ins"},"mark":{"type":"line","color":"#2b2bff","strokeWidth":1},
   "encoding":{"x":{"field":"H","type":"quantitative"},"y":{"field":"m","type":"quantitative"}}},
  {"data":{"name":"ins"},"mark":{"type":"point","shape":"square","filled":true,"fill":"white","stroke":"#2b2bff","strokeWidth":1,"size":50,"opacity":1},
   "encoding":{"x":{"field":"H","type":"quantitative"},"y":{"field":"m","type":"quantitative"}}},
  {"mark":{"type":"text","text":"*","fontSize":16,"fontWeight":"bold","align":"center","baseline":"alphabetic","color":"#1010d0"},"encoding":{"x":{"datum":-6.19},"y":{"datum":0.0668}}}
 ]},
 {"layer":[
  {"data":{"name":"ins"},"mark":{"type":"point","opacity":0},
   "encoding":{
    "x":{"field":"H","type":"quantitative","scale":{"domain":[-7,7],"range":[263.3,488],"nice":false,"zero":false},
      "axis":{"orient":"top","offset":-277,"title":null,"labels":false,"values":[-6,-4.5,-3,-1.5,0,1.5,3,4.5,6],"tickSize":-3,"domainWidth":1.5,"tickWidth":1}},
    "y":{"field":"m","type":"quantitative","scale":{"domain":[-0.1044,0.1057],"range":[436,277],"nice":false,"zero":false},
      "axis":{"orient":"right","offset":-11,"title":null,"labels":false,"values":[-0.1,-0.05,0,0.05,0.1],"tickSize":-3,"domainWidth":1.5,"tickWidth":1}}}}
 ]}
]
}
